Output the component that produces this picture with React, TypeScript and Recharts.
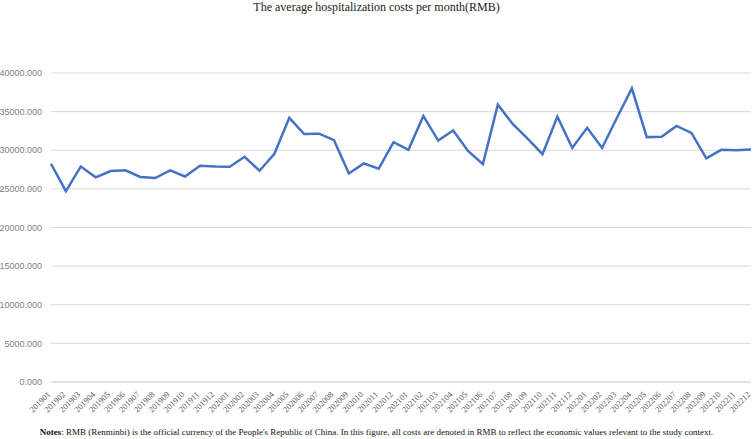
import React from 'react'
import { LineChart, Line, XAxis, YAxis, CartesianGrid } from 'recharts'

const months = [
  '201901', '201902', '201903', '201904', '201905', '201906', '201907', '201908', '201909', '201910', '201911', '201912',
  '202001', '202002', '202003', '202004', '202005', '202006', '202007', '202008', '202009', '202010', '202011', '202012',
  '202101', '202102', '202103', '202104', '202105', '202106', '202107', '202108', '202109', '202110', '202111', '202112',
  '202201', '202202', '202203', '202204', '202205', '202206', '202207', '202208', '202209', '202210', '202211', '202212',
]

const avgCost = [
  28250, 24700, 27900, 26500, 27300, 27400, 26550, 26400, 27400, 26600, 28000, 27900,
  27850, 29150, 27350, 29550, 34200, 32100, 32150, 31300, 27000, 28300, 27600, 31050,
  30050, 34450, 31250, 32550, 29900, 28200, 35900, 33400, 31500, 29500, 34350, 30300,
  32900, 30300, 34200, 38000, 31700, 31750, 33150, 32250, 28950, 30050, 30000, 30100,
]

const yTicks = [0, 5000, 10000, 15000, 20000, 25000, 30000, 35000, 40000]

const data = months.map((m, i) => ({ month: m, cost: avgCost[i] }))

const serif = "'Liberation Serif', 'Times New Roman', serif"

const MonthTick = (props: any) => {
  const { x, y, payload } = props
  const ax = x
  const ay = y + 5
  return (
    <text
      x={ax}
      y={ay}
      transform={`rotate(-45, ${ax}, ${ay})`}
      textAnchor="end"
      fontSize={8.5}
      fontFamily={serif}
      fill="#595959"
    >
      {payload.value}
    </text>
  )
}

export default function App() {
  return (
    <div style={{ position: 'absolute', left: 0, top: 0, width: 753, height: 439, background: '#fff' }}>
      <div
        style={{
          position: 'absolute',
          top: 0,
          width: 753,
          textAlign: 'center',
          fontFamily: serif,
          fontSize: 12,
          lineHeight: '14px',
          color: '#222',
        }}
      >
        The average hospitalization costs per month(RMB)
      </div>
      <LineChart
        width={753}
        height={439}
        data={data}
        margin={{ top: 73, right: 2, bottom: 17, left: 0 }}
      >
        <CartesianGrid vertical={false} stroke="#d9d9d9" />
        <XAxis
          dataKey="month"
          interval={0}
          height={40}
          tickLine={false}
          axisLine={{ stroke: '#d9d9d9' }}
          tick={<MonthTick />}
        />
        <YAxis
          width={51}
          domain={[0, 40000]}
          ticks={yTicks}
          tickFormatter={(v: number) => v.toFixed(3)}
          tickLine={false}
          axisLine={false}
          tickMargin={3}
          tick={{ fontSize: 9, fill: '#7f7f7f', fontFamily: "'Liberation Sans', Arial, sans-serif" }}
        />
        <Line
          type="linear"
          dataKey="cost"
          stroke="#4472c4"
          strokeWidth={2.5}
          dot={false}
          isAnimationActive={false}
        />
      </LineChart>
      <div
        style={{
          position: 'absolute',
          top: 426,
          width: 753,
          textAlign: 'center',
          whiteSpace: 'nowrap',
          fontFamily: serif,
          fontSize: 9,
          lineHeight: '12px',
          color: '#111',
        }}
      >
        <b>Notes</b>: RMB (Renminbi) is the official currency of the People's Republic of China. In this figure, all costs are denoted in RMB to reflect the economic values relevant to the study context.
      </div>
    </div>
  )
}
